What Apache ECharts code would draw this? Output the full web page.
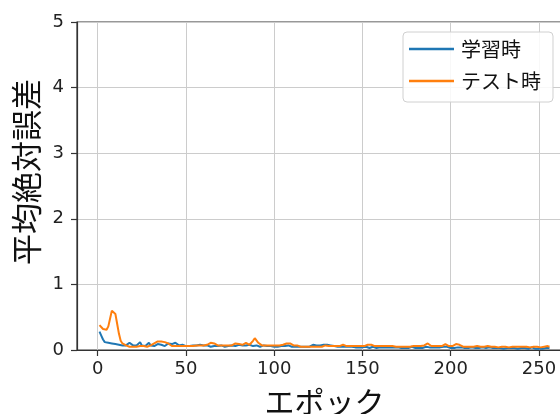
<!DOCTYPE html>
<html>
<head>
<meta charset="utf-8">
<script src="https://cdn.jsdelivr.net/npm/echarts@6/dist/echarts.min.js"></script>
<style>
html,body{margin:0;padding:0;background:#fff;}
#chart{width:560px;height:414px;}
</style>
</head>
<body>
<div id="chart"></div>
<script>
const seriesNames = ['学習時', 'テスト時'];
const xTickValues = [0, 50, 100, 150, 200, 250];
const yTickValues = [0, 1, 2, 3, 4, 5];
const firstEpoch = 1;

const trainMAE = [
  0.28,0.22,0.16,0.12,0.10,0.11,0.09,0.10,0.08,0.09,
  0.10,0.08,0.09,0.07,0.08,0.07,0.09,0.11,0.08,0.07,
  0.10,0.07,0.08,0.12,0.07,0.08,0.06,0.09,0.11,0.07,
  0.08,0.06,0.07,0.09,0.06,0.08,0.07,0.06,0.08,0.10,
  0.07,0.09,0.06,0.11,0.08,0.07,0.06,0.08,0.07,0.06,
  0.07,0.06,0.08,0.07,0.06,0.07,0.06,0.08,0.06,0.07,
  0.06,0.07,0.06,0.05,0.07,0.06,0.08,0.06,0.05,0.07,
  0.06,0.05,0.07,0.06,0.08,0.07,0.09,0.06,0.07,0.08,
  0.06,0.07,0.09,0.07,0.06,0.08,0.07,0.06,0.05,0.07,
  0.06,0.05,0.06,0.07,0.05,0.06,0.05,0.06,0.07,0.05,
  0.06,0.05,0.07,0.06,0.05,0.06,0.05,0.07,0.06,0.05,
  0.06,0.05,0.06,0.05,0.07,0.05,0.06,0.05,0.06,0.05,
  0.07,0.08,0.06,0.07,0.08,0.07,0.09,0.08,0.07,0.08,
  0.06,0.07,0.08,0.06,0.07,0.05,0.06,0.05,0.04,0.05,
  0.04,0.05,0.04,0.05,0.04,0.04,0.05,0.04,0.05,0.04,
  0.04,0.05,0.04,0.03,0.04,0.05,0.04,0.03,0.04,0.04,
  0.03,0.04,0.05,0.04,0.03,0.04,0.03,0.04,0.03,0.04,
  0.04,0.03,0.04,0.03,0.04,0.03,0.04,0.05,0.04,0.03,
  0.04,0.03,0.04,0.03,0.04,0.05,0.06,0.04,0.03,0.04,
  0.03,0.04,0.03,0.04,0.03,0.05,0.07,0.05,0.04,0.03,
  0.04,0.03,0.05,0.04,0.03,0.04,0.03,0.03,0.04,0.03,
  0.03,0.04,0.03,0.03,0.04,0.03,0.03,0.04,0.03,0.03,
  0.03,0.04,0.03,0.03,0.02,0.03,0.04,0.03,0.03,0.02,
  0.03,0.03,0.04,0.03,0.02,0.03,0.03,0.02,0.03,0.03,
  0.02,0.03,0.03,0.02,0.03,0.04,0.03,0.02,0.03,0.02,
  0.03,0.02,0.03,0.03,0.02,0.03
];

const testMAE = [
  0.38,0.35,0.32,0.30,0.31,0.36,0.48,0.60,0.63,0.55,
  0.40,0.25,0.14,0.10,0.08,0.07,0.06,0.05,0.06,0.05,
  0.06,0.05,0.07,0.06,0.05,0.06,0.07,0.05,0.06,0.07,
  0.08,0.10,0.12,0.13,0.12,0.13,0.13,0.12,0.13,0.10,
  0.07,0.06,0.05,0.06,0.05,0.06,0.07,0.06,0.05,0.06,
  0.07,0.06,0.07,0.06,0.05,0.07,0.06,0.07,0.08,0.07,
  0.06,0.08,0.10,0.11,0.12,0.10,0.08,0.07,0.06,0.07,
  0.06,0.07,0.08,0.07,0.06,0.07,0.09,0.10,0.11,0.09,
  0.07,0.08,0.10,0.11,0.09,0.08,0.10,0.14,0.18,0.16,
  0.11,0.08,0.07,0.06,0.07,0.06,0.07,0.08,0.07,0.06,
  0.07,0.06,0.07,0.06,0.08,0.09,0.10,0.11,0.10,0.08,
  0.07,0.06,0.07,0.06,0.05,0.06,0.05,0.06,0.05,0.06,
  0.05,0.06,0.05,0.06,0.05,0.06,0.05,0.06,0.07,0.06,
  0.06,0.05,0.06,0.05,0.06,0.07,0.06,0.07,0.08,0.07,
  0.06,0.07,0.06,0.05,0.06,0.07,0.06,0.05,0.06,0.07,
  0.06,0.07,0.08,0.07,0.08,0.07,0.06,0.07,0.06,0.05,
  0.06,0.05,0.06,0.05,0.06,0.05,0.06,0.05,0.05,0.06,
  0.05,0.06,0.05,0.06,0.05,0.06,0.05,0.05,0.06,0.05,
  0.06,0.05,0.06,0.05,0.07,0.09,0.10,0.08,0.06,0.05,
  0.06,0.05,0.06,0.05,0.06,0.08,0.09,0.07,0.06,0.05,
  0.06,0.07,0.09,0.10,0.08,0.06,0.05,0.06,0.05,0.06,
  0.05,0.06,0.05,0.05,0.06,0.05,0.05,0.06,0.05,0.05,
  0.06,0.05,0.05,0.06,0.05,0.05,0.04,0.05,0.05,0.06,
  0.05,0.05,0.04,0.05,0.05,0.06,0.05,0.04,0.05,0.05,
  0.05,0.06,0.05,0.05,0.04,0.05,0.05,0.06,0.05,0.05,
  0.04,0.05,0.05,0.05,0.06,0.05
];

const toPairs = arr => arr.map((v, i) => [i + firstEpoch, v]);

const latin = "'DejaVu Sans', 'Noto Sans CJK JP', sans-serif";
const cjk = "'Noto Sans CJK JP', 'DejaVu Sans', sans-serif";
const spine = '#333333';
const gridColor = '#cccccc';

const chart = echarts.init(document.getElementById('chart'), null, {renderer: 'canvas'});
chart.setOption({
  animation: false,
  backgroundColor: '#ffffff',
  color: ['#1f77b4', '#ff7f0e'],
  grid: {
    left: 77, top: 22, width: 495, height: 328,
    containLabel: false,
    outerBoundsMode: 'none',
    show: true, borderColor: spine, borderWidth: 1.2, backgroundColor: 'transparent'
  },
  legend: {
    orient: 'vertical',
    left: 403, top: 32,
    padding: [7, 12, 11, 6],
    itemGap: 12,
    itemWidth: 45,
    itemHeight: 2.5,
    icon: 'rect',
    backgroundColor: 'rgba(255,255,255,0.85)',
    borderColor: '#d0d0d0',
    borderWidth: 1,
    borderRadius: 4,
    textStyle: {fontFamily: cjk, fontSize: 20, lineHeight: 20, color: '#111', padding: [0, 0, 0, 2]},
    data: seriesNames
  },
  xAxis: {
    type: 'value',
    min: -11.75, max: 268.75,
    name: 'エポック',
    nameLocation: 'middle',
    nameGap: 37,
    nameTextStyle: {fontFamily: cjk, fontSize: 30, color: '#111'},
    axisLine: {show: true, onZero: false, lineStyle: {color: spine, width: 1.2}},
    axisTick: {show: true, inside: false, length: 6, customValues: xTickValues, lineStyle: {color: spine, width: 1.2}},
    axisLabel: {show: true, margin: 10, customValues: xTickValues, fontFamily: latin, fontSize: 18, color: '#222'},
    splitLine: {show: true, lineStyle: {color: gridColor, width: 1}}
  },
  yAxis: {
    type: 'value',
    min: 0, max: 5, interval: 1,
    name: '平均絶対誤差',
    nameLocation: 'middle',
    nameGap: 33,
    nameRotate: 90,
    nameTextStyle: {fontFamily: cjk, fontSize: 31, color: '#111', padding: [0, 0, 0, 28]},
    axisLine: {show: true, onZero: false, lineStyle: {color: spine, width: 1.2}},
    axisTick: {show: true, inside: false, length: 6, lineStyle: {color: spine, width: 1.2}},
    axisLabel: {show: true, margin: 13, fontFamily: latin, fontSize: 18, color: '#222'},
    splitLine: {show: true, lineStyle: {color: gridColor, width: 1}}
  },
  series: [
    {
      name: seriesNames[0], type: 'line', data: toPairs(trainMAE),
      symbol: 'none', showSymbol: false,
      lineStyle: {width: 2, color: '#1f77b4'}, itemStyle: {color: '#1f77b4'}
    },
    {
      name: seriesNames[1], type: 'line', data: toPairs(testMAE),
      symbol: 'none', showSymbol: false,
      lineStyle: {width: 2, color: '#ff7f0e'}, itemStyle: {color: '#ff7f0e'}
    }
  ]
});
</script>
</body>
</html>
